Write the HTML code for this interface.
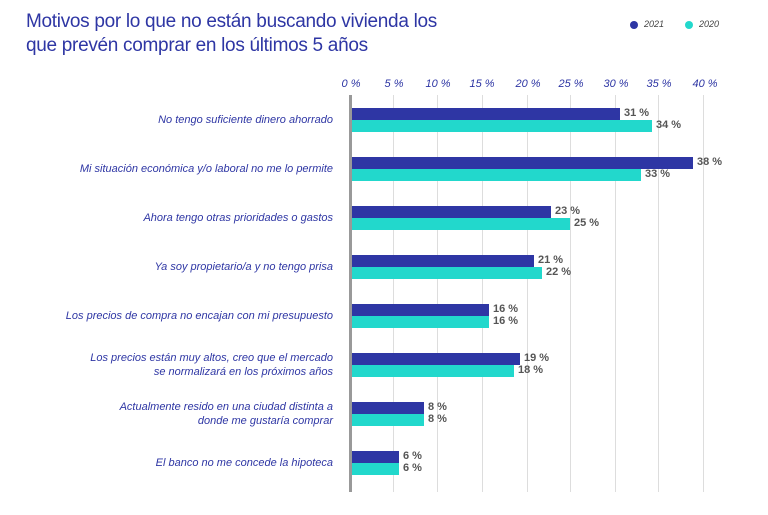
<!DOCTYPE html><html><head><meta charset="utf-8"><style>
body{margin:0;width:768px;height:515px;background:#fff;font-family:"Liberation Sans",sans-serif;position:relative;overflow:hidden}
.t{position:absolute;left:26px;top:10px;color:#2e36a4;font-size:19px;line-height:24px;letter-spacing:-0.3px}
.g{position:absolute;top:95px;height:397px;width:1px;background:#ddd}
.tk{position:absolute;top:78px;font-size:11px;font-style:italic;color:#2e36a4;width:40px;margin-left:-20px;text-align:center}
.b{position:absolute;left:351px;height:12px}
.a{background:#2e36a4}.c{background:#22d8cc}
.v{position:absolute;font-size:11px;color:#555;font-weight:bold}
.l{position:absolute;right:435px;width:320px;text-align:right;font-size:11px;font-style:italic;color:#2e36a4;line-height:14px}
</style></head><body>
<div class="t">Motivos por lo que no están buscando vivienda los<br>que prevén comprar en los últimos 5 años</div>
<div style="position:absolute;left:630px;top:21px;width:8px;height:8px;border-radius:50%;background:#2e36a4"></div>
<div style="position:absolute;left:644px;top:19px;font-size:9px;font-style:italic;color:#444">2021</div>
<div style="position:absolute;left:685px;top:21px;width:8px;height:8px;border-radius:50%;background:#22d8cc"></div>
<div style="position:absolute;left:699px;top:19px;font-size:9px;font-style:italic;color:#444">2020</div>
<div class="g" style="left:393px"></div><div class="g" style="left:437px"></div><div class="g" style="left:482px"></div><div class="g" style="left:527px"></div><div class="g" style="left:570px"></div><div class="g" style="left:615px"></div><div class="g" style="left:658px"></div><div class="g" style="left:703px"></div>
<div class="tk" style="left:351px">0 %</div><div class="tk" style="left:394px">5 %</div><div class="tk" style="left:438px">10 %</div><div class="tk" style="left:482px">15 %</div><div class="tk" style="left:528px">20 %</div><div class="tk" style="left:571px">25 %</div><div class="tk" style="left:616px">30 %</div><div class="tk" style="left:659px">35 %</div><div class="tk" style="left:705px">40 %</div>
<div id="bars"></div>
<div style="position:absolute;left:349px;top:95px;width:3px;height:397px;background:#999"></div>
<script>
var d=[["No tengo suficiente dinero ahorrado",31,620,34,652],
["Mi situación económica y/o laboral no me lo permite",38,693,33,641],
["Ahora tengo otras prioridades o gastos",23,551,25,570],
["Ya soy propietario/a y no tengo prisa",21,534,22,542],
["Los precios de compra no encajan con mi presupuesto",16,489,16,489],
["Los precios están muy altos, creo que el mercado<br>se normalizará en los próximos años",19,520,18,514],
["Actualmente resido en una ciudad distinta a<br>donde me gustaría comprar",8,424,8,424],
["El banco no me concede la hipoteca",6,399,6,399]];
var h="";d.forEach(function(r,i){var y=120+i*49;
h+='<div class="b a" style="top:'+(y-12)+'px;width:'+(r[2]-351)+'px"></div>';
h+='<div class="b c" style="top:'+y+'px;width:'+(r[4]-351)+'px"></div>';
h+='<div class="v" style="left:'+(r[2]+4)+'px;top:'+(y-13)+'px">'+r[1]+' %</div>';
h+='<div class="v" style="left:'+(r[4]+4)+'px;top:'+(y-1)+'px">'+r[3]+' %</div>';
var two=r[0].indexOf("<br>")>0;
h+='<div class="l" style="top:'+(y-(two?14:7))+'px">'+r[0]+'</div>';});
document.getElementById("bars").innerHTML=h;
</script>
</body></html>
